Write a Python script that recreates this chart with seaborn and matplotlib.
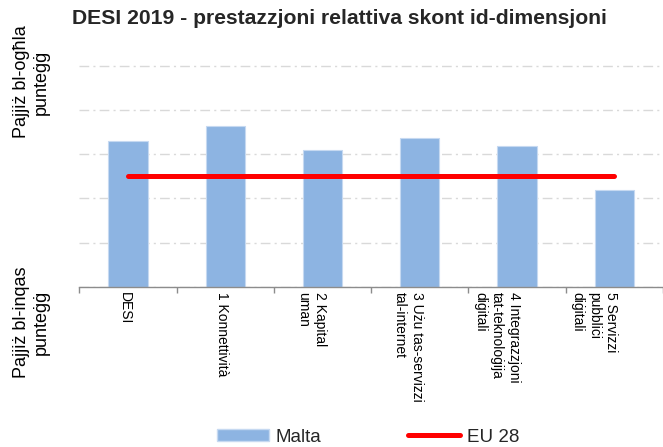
import matplotlib
matplotlib.use('Agg')
import matplotlib.pyplot as plt
import matplotlib.transforms as mtransforms
from matplotlib.patches import Patch
from matplotlib.lines import Line2D
import seaborn as sns
import pandas as pd

# data
categories = [
    'DESI',
    '1 Konnettività',
    '2 Kapital\numan',
    '3 Użu tas-servizzi\ntal-internet',
    '4 Integrazzjoni\ntat-teknoloġija\ndiġitali',
    '5 Servizzi\npubbliċi\ndiġitali',
]
malta = [3.30, 3.64, 3.09, 3.36, 3.18, 2.19]
eu28 = [2.51, 2.51, 2.51, 2.51, 2.51, 2.51]

sns.set_style('white')
plt.rcParams['font.family'] = ['Liberation Sans', 'DejaVu Sans']

df = pd.DataFrame({'dim': categories, 'Malta': malta})

fig = plt.figure(figsize=(6.63, 4.47), dpi=100)
ax = fig.add_axes([0.1196, 0.3586, 0.8804, 0.4994])

sns.barplot(data=df, x='dim', y='Malta', color='#8db4e2', width=0.404,
            edgecolor='#c6d9f1', linewidth=0.8, saturation=1, ax=ax, zorder=2)
ax.plot(range(len(categories)), eu28, color='#ff0000', linewidth=3.6,
        solid_capstyle='round', zorder=3)

ax.set_ylim(0, 5.05)
ax.set_xlim(-0.5, 5.5)
ax.set_yticks(range(0, 6))
ax.set_yticklabels([])
ax.tick_params(axis='y', length=0)
ax.yaxis.grid(True, color='#d9d9d9', linewidth=1,
              linestyle=(0, (7, 3, 1.5, 3)))
ax.xaxis.grid(False)
ax.set_axisbelow(True)
ax.set_xlabel('')
ax.set_ylabel('')

for s in ['top', 'right', 'left']:
    ax.spines[s].set_visible(False)
ax.spines['bottom'].set_color('#8c8c8c')
ax.spines['bottom'].set_linewidth(1)

# category boundaries as minor ticks, labels on major ticks
ax.set_xticks([i - 0.5 for i in range(len(categories) + 1)], minor=True)
ax.tick_params(axis='x', which='minor', length=4, width=1, color='#8c8c8c',
               direction='out', bottom=True)
ax.tick_params(axis='x', which='major', length=0, pad=4)
offset = mtransforms.ScaledTranslation(0.04, 0, fig.dpi_scale_trans)
for lab in ax.get_xticklabels():
    lab.set_rotation(-90)
    lab.set_ha('right')
    lab.set_va('top')
    lab.set_multialignment('left')
    lab.set_fontsize(10)
    lab.set_linespacing(1.25)
    lab.set_color('#000000')
    lab.set_transform(lab.get_transform() + offset)

fig.text(72 / 663, 1 - 18 / 447,
         'DESI 2019 - prestazzjoni relattiva skont id-dimensjoni',
         fontsize=15.2, fontweight='bold', ha='left', va='center')

fig.text(31 / 663, 1 - 82 / 447, 'Pajjiż bl-ogħla\npunteġġ', rotation=90,
         ha='center', va='center', multialignment='center', fontsize=13,
         color='#000000')
fig.text(31 / 663, 1 - 322 / 447, 'Pajjiż bl-inqas\npunteġġ', rotation=90,
         ha='center', va='center', multialignment='center', fontsize=13,
         color='#000000')

handles = [Patch(facecolor='#8db4e2', edgecolor='#c6d9f1', label='Malta'),
           Line2D([0], [0], color='#ff0000', linewidth=3.6,
                  solid_capstyle='round', label='EU 28')]
fig.legend(handles=handles, loc='center', ncol=2,
           bbox_to_anchor=(368 / 663, 1 - 437 / 447), frameon=False,
           fontsize=13.5, handlelength=2.8, handleheight=0.6,
           handletextpad=0.35, columnspacing=4.6, borderpad=0)

fig.savefig('out.png', dpi=100)
